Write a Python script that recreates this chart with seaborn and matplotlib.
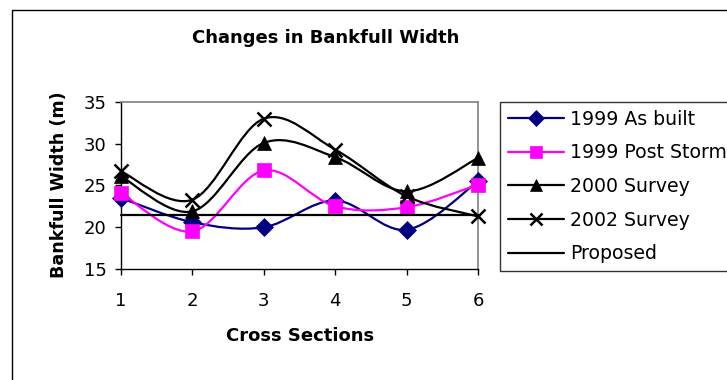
import numpy as np
import pandas as pd
import matplotlib
matplotlib.use("Agg")
import matplotlib.pyplot as plt
import seaborn as sns
from matplotlib.path import Path
from matplotlib.patches import PathPatch, Rectangle
from matplotlib.lines import Line2D

# data
sections = [1, 2, 3, 4, 5, 6]
as_built = [23.5, 20.6, 20.0, 23.2, 19.7, 25.5]
post_storm = [24.1, 19.5, 26.8, 22.5, 22.4, 25.1]
survey_2000 = [26.1, 21.9, 30.1, 28.4, 24.3, 28.3]
survey_2002 = [26.7, 23.3, 33.0, 29.3, 23.7, 21.3]
proposed = [21.5, 21.5, 21.5, 21.5, 21.5, 21.5]

series_names = ["1999 As built", "1999 Post Storm", "2000 Survey", "2002 Survey", "Proposed"]
series_vals = [as_built, post_storm, survey_2000, survey_2002, proposed]
colors = ["#000080", "#FF00FF", "black", "black", "black"]
markers = ["D", "s", "^", "x", None]
msizes = [9.5, 10, 10, 10, 0]


def smooth_path(x, y):
    # excel style smoothed line: bezier segments through the data points
    pts = np.column_stack([x, y]).astype(float)
    n = len(pts)
    verts = [pts[0]]
    codes = [Path.MOVETO]
    for i in range(n - 1):
        p0 = pts[i - 1] if i > 0 else pts[i]
        p1, p2 = pts[i], pts[i + 1]
        p3 = pts[i + 2] if i + 2 < n else pts[i + 1]
        verts += [p1 + (p2 - p0) / 6, p2 - (p3 - p1) / 6, p2]
        codes += [Path.CURVE4] * 3
    return Path(verts, codes)


sns.set_style("white")
plt.rcParams["font.family"] = ["DejaVu Sans"]
plt.rcParams["text.color"] = "black"
plt.rcParams["xtick.color"] = "black"
plt.rcParams["ytick.color"] = "black"

fig = plt.figure(figsize=(7.27, 3.8), dpi=100)
ax = fig.add_axes([0.1664, 0.2921, 0.4911, 0.4395])

df = pd.DataFrame({"section": sections * len(series_names),
                   "width": np.concatenate(series_vals),
                   "series": np.repeat(series_names, len(sections))})

handles = []
for i, name in enumerate(series_names):
    sub = df[df.series == name]
    if markers[i] is None:
        sns.lineplot(data=sub, x="section", y="width", color=colors[i], linewidth=1.6,
                     ax=ax, zorder=3 + i, clip_on=False, legend=False)
        handles.append(Line2D([], [], color=colors[i], lw=1.6))
        continue
    ax.add_patch(PathPatch(smooth_path(sub.section, sub.width), facecolor="none",
                           edgecolor=colors[i], lw=1.6, zorder=3 + i, clip_on=False))
    mew = 1.8 if markers[i] == "x" else 0.5
    sns.lineplot(data=sub, x="section", y="width", linestyle="none", marker=markers[i],
                 markersize=msizes[i], color=colors[i], markeredgecolor=colors[i],
                 markeredgewidth=mew, ax=ax, zorder=3 + i, clip_on=False, legend=False)
    handles.append(Line2D([], [], color=colors[i], lw=1.6, marker=markers[i],
                          markersize=msizes[i] * 0.9, markeredgewidth=mew))

ax.set_xlim(1, 6)
ax.set_ylim(15, 35)
ax.set_xticks(sections)
ax.set_yticks([15, 20, 25, 30, 35])
ax.set_xlabel("")
ax.set_ylabel("")
ax.tick_params(axis="both", direction="out", length=4.5, width=1, color="black",
               labelsize=13, labelcolor="black", left=True, bottom=True)
ax.tick_params(axis="x", pad=12)
ax.tick_params(axis="y", pad=6)
for side in ["left", "bottom"]:
    ax.spines[side].set_color("black")
    ax.spines[side].set_linewidth(1)
for side in ["top", "right"]:
    ax.spines[side].set_color("#808080")
    ax.spines[side].set_linewidth(1.2)
ax.grid(False)

fig.text(0.4484, 0.90, "Changes in Bankfull Width", ha="center", va="center",
         fontsize=13, fontweight="bold", color="black")
fig.text(0.081, 0.513, "Bankfull Width (m)", ha="center", va="center", rotation=90,
         fontsize=12.6, fontweight="bold", color="black")
fig.text(0.4127, 0.1158, "Cross Sections", ha="center", va="center",
         fontsize=13, fontweight="bold", color="black")

leg = fig.legend(handles, series_names, loc="upper left",
                 bbox_to_anchor=(500 / 727, 1 - 102 / 380), fontsize=13.6,
                 frameon=True, fancybox=False, shadow=False, borderaxespad=0,
                 borderpad=0.4, handlelength=3.0, handletextpad=0.3,
                 labelspacing=0.78)
leg.get_frame().set_edgecolor("black")
leg.get_frame().set_linewidth(1)

# outer chart border (runs off the right and bottom edges)
fig.patches.append(Rectangle((12 / 727, -0.2), 1.2, 1.2 - 10 / 380,
                             transform=fig.transFigure, fill=False,
                             edgecolor="black", lw=1))

fig.savefig("out.png", dpi=100)
